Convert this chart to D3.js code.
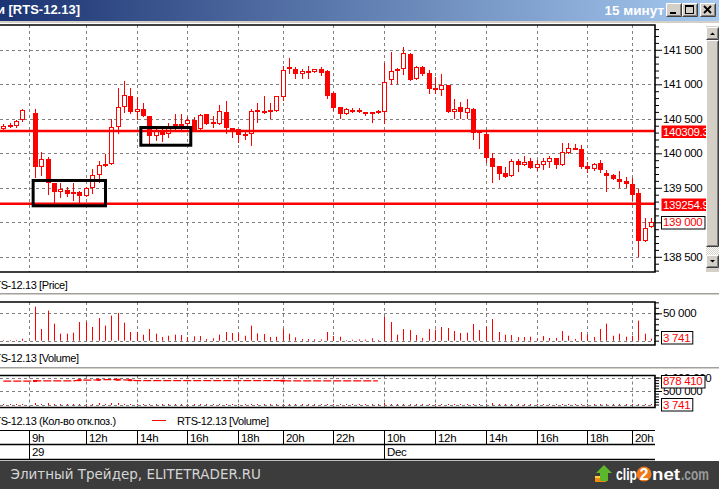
<!DOCTYPE html>
<html>
<head>
<meta charset="utf-8">
<title>RTS-12.13</title>
<script src="https://cdn.jsdelivr.net/npm/d3@7"></script>
<style>
  body { margin: 0; background: #fff; overflow: hidden; }
  svg { display: block; }
</style>
</head>
<body>
<div id="chart"></div>
<script>
// 15 min bars of RTS-12.13, slot 4 is the empty 9h slot
const opens = [
  140356,140410,140400,140478,null,140584,139806,139913,139565,139444,
  139464,139439,139439,139386,139493,139681,139849,139849,140385,140666,
  140830,140594,140642,140540,140255,140338,140275,140420,140420,140420,
  140483,140348,140570,140420,140420,140598,140367,140352,140280,140275,
  140632,140614,140627,140617,140820,141217,141217,141153,141192,141182,
  141222,141192,140874,140671,140574,140632,140627,140603,140603,140606,
  140594,141058,141188,141217,141439,141081,141246,141164,140946,140922,
  140990,140603,140671,140580,140642,140330,140275,139928,139816,139710,
  139676,139884,139835,139888,139783,139835,139878,139932,139835,140000,
  140072,140062,139820,139777,139855,139715,139690,139632,139599,139555,
  139420,138734,138936];
const highs = [
  140420,140443,140480,140642,null,140642,140019,139951,139565,139565,
  139516,139565,139454,139516,139768,139893,139990,140493,140942,141048,
  140942,140820,140724,140545,140356,140356,140443,140570,140570,140522,
  140522,140570,140570,140540,140700,140762,140367,140352,140338,140646,
  140733,140830,140724,140830,141265,141376,141246,141217,141265,141222,
  141246,141203,140890,140671,140650,140656,140656,140603,140603,140627,
  141304,141472,141232,141536,141449,141265,141265,141203,141101,141149,
  140990,140787,140748,140787,140652,140340,140323,140000,139816,139801,
  139917,139917,139961,139932,139903,139932,139961,139932,140154,140145,
  140130,140116,139878,139864,139903,139758,139700,139744,139661,139646,
  139478,139058,139067];
const lows = [
  140330,140382,140385,140470,null,139650,139686,139406,139275,139371,
  139386,139323,139275,139380,139420,139580,139810,139845,140290,140603,
  140580,140493,140540,140145,140193,140183,140241,140338,140338,140385,
  140338,140348,140420,140385,140420,140298,140241,140168,140203,140120,
  140458,140588,140507,140617,140772,141168,141095,141095,141095,141182,
  141130,140797,140627,140516,140574,140598,140594,140555,140458,140580,
  140435,141004,141023,141144,141066,141081,141130,140878,140878,140840,
  140603,140516,140516,140516,140203,140072,139878,139589,139632,139661,
  139670,139748,139825,139783,139758,139772,139797,139783,139835,140000,
  140058,139783,139733,139760,139733,139458,139623,139516,139516,139323,
  138512,138734,138936];
const closes = [
  140400,140400,140464,140623,null,139806,139913,139565,139435,139478,
  139410,139425,139386,139493,139681,139830,139816,140377,140666,140840,
  140603,140638,140545,140255,140323,140265,140385,140356,140352,140478,
  140338,140551,140420,140449,140613,140371,140338,140261,140270,140613,
  140622,140605,140603,140830,141203,141246,141153,141188,141168,141217,
  141168,140835,140661,140574,140642,140622,140594,140588,140580,140600,
  141037,141188,141222,141449,141066,141246,141153,140936,140917,140990,
  140603,140646,140603,140652,140298,140290,139928,139806,139700,139661,
  139888,139830,139870,139783,139841,139888,139932,139835,140014,140077,
  140062,139806,139777,139845,139754,139671,139623,139584,139555,139400,
  138734,138922,139000];
const volumes = [
  1200,1200,1200,3600,null,62200,21300,54900,31100,12800,
  12800,14600,34100,34100,25000,41500,27400,45700,50600,32900,
  15900,15900,11000,21300,12800,6700,9100,11000,10400,6700,
  7900,8500,3000,4300,11000,15900,14000,13400,9100,27400,
  13400,12200,6700,7300,21300,12800,6100,3000,3000,2400,
  2400,15900,8500,7300,1200,1800,2400,2000,4300,1200,
  43300,34100,11000,21300,19500,10400,4900,21300,20100,25000,
  23200,17700,14000,14600,30500,19500,25600,39600,15900,11000,
  10400,6700,6700,7300,3000,8500,4900,4900,17700,9100,
  3000,15900,11000,6700,21300,31100,9100,12800,7300,9100,
  36600,12800,3741];

// open interest, only the first session is drawn
const openInterest = [
  868000,868000,868000,868000,868000,872000,872000,872000,872000,872000,
  872000,872000,900000,905000,905000,915000,918000,918000,918000,912000,
  900000,885000,885000,885000,885000,885000,885000,885000,885000,885000,
  885000,885000,885000,885000,885000,885000,885000,885000,885000,885000,
  885000,885000,885000,885000,880000,878410,878410,878410,878410,878410,
  878410,878410,878410,878410,878410,878410,878410,878410,878410,878410];
const oiMarks = [5, 12, 15, 18, 20, 44];
const lastOi = 878410;

// time axis
const hourSlots = [4, 13, 21, 29, 37, 44, 52, 60, 68, 76, 84, 92, 99];
const hourLabels = ['9h', '12h', '14h', '16h', '18h', '20h', '22h', '10h', '12h', '14h', '16h', '18h', '20h'];
const daySlots = [4, 60];
const dayLabels = ['29', 'Dec'];

// price axis + horizontal levels
const priceTicks = [138500, 139000, 139500, 140000, 140500, 141000, 141500];
const levels = [140309.3, 139254.9];
const levelLabels = ['140309.3', '139254.9'];

// boxes drawn by hand: [slotFrom, slotTo, priceLow, priceHigh]
const boxes = [[4.7, 16.1, 139239, 139606], [21.66, 29.53, 140117, 140374]];

const red = '#ff0000';
const fmtSpace = v => d3.format(',')(v).replace(/,/g, ' ');

class QuikChart {

  constructor(_config) {
    this.config = {
      parentElement: _config.parentElement,
      width: 719,
      height: 489,
      plotRight: 655,
      price: { top: 25, bottom: 272 },
      vol: { top: 302, bottom: 345 },
      oi: { top: 375.5, bottom: 407.5 }
    };
    this.initVis();
  }

  initVis() {
    let vis = this;

    vis.svg = d3.select(vis.config.parentElement).append('svg')
      .attr('width', vis.config.width)
      .attr('height', vis.config.height)
      .style('font-family', '"Liberation Sans", Arial, sans-serif');
    vis.defs = vis.svg.append('defs');

    vis.x = d3.scaleLinear().domain([0, 102]).range([3.3, 650.9]);
    vis.yPrice = d3.scaleLinear().domain([138500, 141500]).range([256.8, 49.8]);
    vis.yVol = d3.scaleLinear().domain([0, 50000]).range([340.7, 313.3]);
    vis.yOi = d3.scaleLinear().domain([0, 1000000]).range([404.5, 377.5]);

    vis.bars = d3.range(opens.length)
      .filter(i => opens[i] !== null)
      .map(i => ({ i: i, o: opens[i], h: highs[i], l: lows[i], c: closes[i], v: volumes[i] }));

    vis.renderVis();
  }

  px(i) { return Math.round(this.x(i)); }

  renderVis() {
    let vis = this;
    vis.drawTitleBar();
    vis.drawPricePanel();
    vis.drawVolumePanel();
    vis.drawOiPanel();
    vis.drawTimeAxis();
    vis.drawScrollbar();
    vis.drawFooter();
  }

  // panel with clip + dashed grid, returns the clipped group
  panel(p, name, gridValues, yScale) {
    let vis = this;
    vis.defs.append('clipPath').attr('id', 'clip-' + name)
      .append('rect')
        .attr('x', 0).attr('y', p.top)
        .attr('width', vis.config.plotRight).attr('height', p.bottom - p.top);

    const g = vis.svg.append('g').attr('clip-path', `url(#clip-${name})`);
    g.selectAll('line.vgrid').data(hourSlots).join('line')
      .attr('class', 'vgrid')
      .attr('x1', d => vis.px(d) + 0.5).attr('x2', d => vis.px(d) + 0.5)
      .attr('y1', p.top).attr('y2', p.bottom)
      .attr('stroke', '#808080').attr('stroke-dasharray', '3,3');
    g.selectAll('line.hgrid').data(gridValues).join('line')
      .attr('class', 'hgrid')
      .attr('x1', 0).attr('x2', vis.config.plotRight)
      .attr('y1', d => Math.round(yScale(d)) + 0.5).attr('y2', d => Math.round(yScale(d)) + 0.5)
      .attr('stroke', '#808080').attr('stroke-dasharray', '3,3');
    return g;
  }

  border(p) {
    let vis = this;
    vis.svg.append('path')
      .attr('d', `M0,${p.top}H${vis.config.plotRight}V${p.bottom}H0`)
      .attr('fill', 'none').attr('stroke', '#000').attr('stroke-width', 1.6);
  }

  axis(yScale, major, minor, majorSize, minorSize) {
    let vis = this;
    const ax = vis.svg.append('g').attr('transform', `translate(${vis.config.plotRight},0)`);
    ax.call(d3.axisRight(yScale).tickValues(minor).tickSize(minorSize).tickSizeOuter(0).tickFormat(''));
    const axMajor = ax.append('g');
    axMajor.call(d3.axisRight(yScale).tickValues(major).tickSize(majorSize).tickPadding(1)
      .tickSizeOuter(0).tickFormat(fmtSpace));
    axMajor.attr('font-size', 11.5).attr('font-family', '"Liberation Sans", Arial, sans-serif');
    axMajor.selectAll('text').attr('letter-spacing', '-0.3');
    ax.selectAll('.domain').remove();
    return ax;
  }

  // value tag next to the axis
  valueBox(yPos, label, kind) {
    let vis = this;
    const g = vis.svg.append('g');
    const t = g.append('text')
      .attr('x', 663).attr('y', yPos).attr('dy', '0.36em')
      .attr('font-size', 11.5).attr('letter-spacing', '-0.3')
      .attr('fill', kind === 'red' ? '#fff' : red)
      .text(label);
    const w = t.node().getComputedTextLength();
    g.insert('rect', 'text')
      .attr('x', 661.5).attr('y', Math.round(yPos - 6.5) + 0.5)
      .attr('width', kind === 'red' ? 52 : w + 4)
      .attr('height', 12.5)
      .attr('fill', kind === 'red' ? red : '#fff')
      .attr('stroke', kind === 'red' ? 'none' : '#000');
  }

  legend(y, label) {
    let vis = this;
    return vis.svg.append('text')
      .attr('x', -13).attr('y', y)
      .attr('font-size', 11).attr('letter-spacing', '-0.4')
      .text(label);
  }

  separator(y) {
    let vis = this;
    vis.svg.append('line').attr('x1', 0).attr('x2', 719).attr('y1', y).attr('y2', y)
      .attr('stroke', '#a0a0a0');
    vis.svg.append('line').attr('x1', 0).attr('x2', 719).attr('y1', y + 1).attr('y2', y + 1)
      .attr('stroke', '#d4d0c8');
  }

  drawTitleBar() {
    let vis = this;
    const grad = vis.defs.append('linearGradient').attr('id', 'titleGrad');
    grad.append('stop').attr('offset', 0).attr('stop-color', '#1b3372');
    grad.append('stop').attr('offset', 1).attr('stop-color', '#a6caf0');

    vis.svg.append('rect').attr('x', 0).attr('y', 0).attr('width', 719).attr('height', 21)
      .attr('fill', 'url(#titleGrad)');
    vis.svg.append('rect').attr('x', 0).attr('y', 21).attr('width', 719).attr('height', 2)
      .attr('fill', '#d4d0c8');

    vis.svg.append('text').attr('x', 5).attr('y', 14).attr('text-anchor', 'end')
      .attr('font-size', 13).attr('font-weight', 'bold').attr('fill', '#fff').text('и');
    vis.svg.append('text').attr('x', 8.5).attr('y', 14)
      .attr('font-size', 13).attr('font-weight', 'bold').attr('fill', '#fff').text('[RTS-12.13]');
    vis.svg.append('text').attr('x', 664).attr('y', 14.5).attr('text-anchor', 'end')
      .attr('font-size', 13.5).attr('font-weight', 'bold').attr('fill', '#fff').text('15 минут');

    const btn = (bx, glyph) => {
      const g = vis.svg.append('g').attr('transform', `translate(${bx},3)`);
      g.append('rect').attr('width', 16).attr('height', 14).attr('fill', '#d4d0c8');
      g.append('path').attr('d', 'M0.5,13.5V0.5H15.5').attr('stroke', '#fff').attr('fill', 'none');
      g.append('path').attr('d', 'M0.5,13.5H15.5V0.5').attr('stroke', '#404040').attr('fill', 'none');
      g.append('path').attr('d', 'M1.5,12.5H14.5V1.5').attr('stroke', '#808080').attr('fill', 'none');
      if (glyph === 'min') {
        g.append('rect').attr('x', 4).attr('y', 9).attr('width', 6).attr('height', 2).attr('fill', '#000');
      } else if (glyph === 'max') {
        g.append('rect').attr('x', 3.5).attr('y', 2.5).attr('width', 8).attr('height', 8)
          .attr('fill', 'none').attr('stroke', '#000');
        g.append('rect').attr('x', 3.5).attr('y', 2.5).attr('width', 8).attr('height', 1.5).attr('fill', '#000');
      } else {
        g.append('path').attr('d', 'M4,3L11,10M11,3L4,10').attr('stroke', '#000').attr('stroke-width', 1.8);
      }
    };
    btn(666, 'min');
    btn(682, 'max');
    btn(700, 'close');
  }

  drawPricePanel() {
    let vis = this;
    const p = vis.config.price;
    const g = vis.panel(p, 'price', priceTicks, vis.yPrice);

    // wicks
    g.selectAll('line.wick').data(vis.bars).join('line')
      .attr('class', 'wick')
      .attr('x1', d => vis.px(d.i) + 0.5).attr('x2', d => vis.px(d.i) + 0.5)
      .attr('y1', d => Math.round(vis.yPrice(d.h))).attr('y2', d => Math.round(vis.yPrice(d.l)) + 1)
      .attr('stroke', red);

    // bodies: up bars hollow, down bars filled
    g.selectAll('rect.body').data(vis.bars).join('rect')
      .attr('class', 'body')
      .each(function(d) {
        const yTop = Math.round(vis.yPrice(Math.max(d.o, d.c)));
        const yBot = Math.round(vis.yPrice(Math.min(d.o, d.c)));
        const cx = vis.px(d.i);
        const sel = d3.select(this);
        if (yBot - yTop < 2) {
          sel.attr('x', cx - 2).attr('y', yTop).attr('width', 5).attr('height', 2)
            .attr('fill', red);
        } else if (d.c > d.o) {
          sel.attr('x', cx - 1.5).attr('y', yTop + 0.5).attr('width', 4).attr('height', yBot - yTop - 1)
            .attr('fill', '#fff').attr('stroke', red);
        } else {
          sel.attr('x', cx - 2).attr('y', yTop).attr('width', 5).attr('height', yBot - yTop)
            .attr('fill', red);
        }
      });

    // horizontal levels
    g.selectAll('line.level').data(levels).join('line')
      .attr('class', 'level')
      .attr('x1', 0).attr('x2', vis.config.plotRight)
      .attr('y1', d => vis.yPrice(d) - 1).attr('y2', d => vis.yPrice(d) - 1)
      .attr('stroke', red).attr('stroke-width', 2.4);

    // hand drawn boxes
    g.selectAll('rect.box').data(boxes).join('rect')
      .attr('class', 'box')
      .attr('x', d => vis.x(d[0])).attr('width', d => vis.x(d[1]) - vis.x(d[0]))
      .attr('y', d => vis.yPrice(d[3])).attr('height', d => vis.yPrice(d[2]) - vis.yPrice(d[3]))
      .attr('fill', 'none').attr('stroke', '#000').attr('stroke-width', 3);

    vis.border(p);
    vis.axis(vis.yPrice, priceTicks,
      d3.range(138300, 141900, 100).filter(v => v % 500 !== 0), 7, 4);

    levels.forEach((lv, k) => vis.valueBox(vis.yPrice(lv), levelLabels[k], 'red'));
    vis.valueBox(vis.yPrice(closes[closes.length - 1]), fmtSpace(closes[closes.length - 1]), 'white');

    vis.legend(289, 'RTS-12.13 [Price]');
    vis.separator(293.5);
  }

  drawVolumePanel() {
    let vis = this;
    const p = vis.config.vol;
    const g = vis.panel(p, 'vol', [0, 50000], vis.yVol);

    g.selectAll('rect.vol').data(vis.bars).join('rect')
      .attr('class', 'vol')
      .attr('x', d => vis.px(d.i)).attr('width', 1)
      .attr('y', d => vis.yVol(d.v)).attr('height', d => vis.yVol(0) - vis.yVol(d.v))
      .attr('fill', red);

    vis.border(p);
    vis.axis(vis.yVol, [50000], d3.range(0, 70001, 10000), 7, 4);
    vis.valueBox(vis.yVol(0) - 3, fmtSpace(volumes[volumes.length - 1]), 'white');

    vis.legend(362, 'RTS-12.13 [Volume]');
    vis.separator(367.5);
  }

  drawOiPanel() {
    let vis = this;
    const p = vis.config.oi;
    const g = vis.panel(p, 'oi', [0, 500000, 1000000], vis.yOi);

    // volume on the open interest scale, nearly flat
    g.selectAll('rect.vol').data(vis.bars).join('rect')
      .attr('class', 'vol')
      .attr('x', d => vis.px(d.i)).attr('width', 1)
      .attr('y', d => vis.yOi(d.v)).attr('height', d => vis.yOi(0) - vis.yOi(d.v))
      .attr('fill', red).attr('shape-rendering', 'crispEdges');

    const line = d3.line().x((d, i) => vis.x(i)).y(d => vis.yOi(d));
    g.append('path').datum(openInterest)
      .attr('d', line)
      .attr('fill', 'none').attr('stroke', red).attr('stroke-width', 1.2)
      .attr('stroke-dasharray', '8,2');
    g.selectAll('rect.mark').data(oiMarks).join('rect')
      .attr('class', 'mark')
      .attr('x', d => vis.x(d) - 2).attr('width', 4)
      .attr('y', d => vis.yOi(openInterest[d]) - 1).attr('height', 2)
      .attr('fill', red);

    vis.border(p);
    vis.axis(vis.yOi, [500000, 1000000], d3.range(0, 1000001, 100000), 7, 4);
    vis.valueBox(vis.yOi(lastOi) + 0.5, fmtSpace(lastOi), 'white');
    vis.valueBox(404.5, fmtSpace(volumes[volumes.length - 1]), 'white');

    // legend with two series
    vis.legend(425, 'RTS-12.13 (Кол-во отк.поз.)');
    vis.svg.append('line').attr('x1', 152).attr('x2', 166).attr('y1', 420.5).attr('y2', 420.5)
      .attr('stroke', red);
    vis.svg.append('text').attr('x', 177).attr('y', 425)
      .attr('font-size', 11).attr('letter-spacing', '-0.4')
      .text('RTS-12.13 [Volume]');
  }

  drawTimeAxis() {
    let vis = this;
    const right = vis.config.plotRight;
    const rows = [430.5, 444.5, 459.5];
    vis.svg.selectAll('line.trow').data(rows).join('line')
      .attr('class', 'trow')
      .attr('x1', 0).attr('x2', right)
      .attr('y1', d => d).attr('y2', d => d)
      .attr('stroke', '#000').attr('stroke-width', (d, i) => i === 0 ? 1 : 1.5);

    vis.svg.selectAll('line.hdiv').data(hourSlots).join('line')
      .attr('class', 'hdiv')
      .attr('x1', d => vis.px(d) + 0.5).attr('x2', d => vis.px(d) + 0.5)
      .attr('y1', rows[0]).attr('y2', rows[1])
      .attr('stroke', '#000');
    vis.svg.selectAll('text.hlab').data(hourSlots).join('text')
      .attr('class', 'hlab')
      .attr('x', d => vis.px(d) + 3).attr('y', 441.5)
      .attr('font-size', 11.5).attr('letter-spacing', '-0.3')
      .text((d, i) => hourLabels[i]);

    vis.svg.selectAll('line.ddiv').data(daySlots).join('line')
      .attr('class', 'ddiv')
      .attr('x1', d => vis.px(d) + 0.5).attr('x2', d => vis.px(d) + 0.5)
      .attr('y1', rows[1]).attr('y2', rows[2])
      .attr('stroke', '#000');
    vis.svg.selectAll('text.dlab').data(daySlots).join('text')
      .attr('class', 'dlab')
      .attr('x', d => vis.px(d) + 3).attr('y', 456)
      .attr('font-size', 11.5).attr('letter-spacing', '-0.3')
      .text((d, i) => dayLabels[i]);
  }

  drawScrollbar() {
    let vis = this;
    const sx = 706;
    vis.svg.append('rect').attr('x', sx).attr('y', 26).attr('width', 13).attr('height', 246)
      .attr('fill', '#d4d0c8');

    const bevel = (y, h) => {
      const g = vis.svg.append('g').attr('transform', `translate(${sx},${y})`);
      g.append('rect').attr('width', 13).attr('height', h).attr('fill', '#d4d0c8');
      g.append('path').attr('d', `M0.5,${h - 0.5}V0.5H12.5`).attr('stroke', '#fff').attr('fill', 'none');
      g.append('path').attr('d', `M0.5,${h - 0.5}H12.5V0.5`).attr('stroke', '#404040').attr('fill', 'none');
      g.append('path').attr('d', `M1.5,${h - 1.5}H11.5V1.5`).attr('stroke', '#808080').attr('fill', 'none');
      return g;
    };
    bevel(27, 13).append('path').attr('d', 'M4,8H9L6.5,5.5Z').attr('fill', '#000');
    bevel(40, 207);

    const pat = vis.defs.append('pattern').attr('id', 'dither')
      .attr('width', 2).attr('height', 2).attr('patternUnits', 'userSpaceOnUse');
    pat.append('rect').attr('width', 2).attr('height', 2).attr('fill', '#fff');
    pat.append('rect').attr('width', 1).attr('height', 1).attr('fill', '#d4d0c8');
    pat.append('rect').attr('x', 1).attr('y', 1).attr('width', 1).attr('height', 1).attr('fill', '#d4d0c8');
    vis.svg.append('rect').attr('x', sx).attr('y', 247).attr('width', 13).attr('height', 8)
      .attr('fill', 'url(#dither)');

    bevel(255, 13).append('path').attr('d', 'M4,5H9L6.5,7.5Z').attr('fill', '#000');
  }

  drawFooter() {
    let vis = this;
    vis.svg.append('rect').attr('x', 0).attr('y', 461).attr('width', 719).attr('height', 28)
      .attr('fill', '#3c3c3c');
    vis.svg.append('text').attr('x', 10.5).attr('y', 479)
      .attr('font-family', '"DejaVu Sans", sans-serif').attr('font-size', 13.5)
      .attr('fill', '#d6d6d6')
      .text('Элитный Трейдер, ELITETRADER.RU');

    // clip2net logo
    const logo = vis.svg.append('g');
    logo.append('rect').attr('x', 595).attr('y', 476).attr('width', 11).attr('height', 6)
      .attr('fill', '#f08a10');
    logo.append('rect').attr('x', 595).attr('y', 476).attr('width', 11).attr('height', 2)
      .attr('fill', '#ffd040');
    logo.append('path').attr('d', 'M604,465L612,473H608V481H600V473H596Z')
      .attr('fill', '#5cb82a');
    logo.append('text').attr('x', 616).attr('y', 480)
      .attr('font-size', 17).attr('font-weight', 'bold').attr('fill', '#fff')
      .attr('textLength', 21).attr('lengthAdjust', 'spacingAndGlyphs').text('clip');
    logo.append('circle').attr('cx', 644).attr('cy', 474).attr('r', 7.5).attr('fill', '#f07818');
    logo.append('text').attr('x', 644).attr('y', 480).attr('text-anchor', 'middle')
      .attr('font-size', 16).attr('font-weight', 'bold').attr('fill', '#fff').text('2');
    logo.append('text').attr('x', 652).attr('y', 480)
      .attr('font-size', 17).attr('font-weight', 'bold').attr('fill', '#fff')
      .attr('textLength', 28).attr('lengthAdjust', 'spacingAndGlyphs').text('net');
    logo.append('text').attr('x', 681).attr('y', 480)
      .attr('font-size', 17).attr('font-weight', 'bold').attr('fill', '#9a9a9a')
      .attr('textLength', 28).attr('lengthAdjust', 'spacingAndGlyphs').text('.com');
  }
}

const chart = new QuikChart({ parentElement: '#chart' });
</script>
</body>
</html>
